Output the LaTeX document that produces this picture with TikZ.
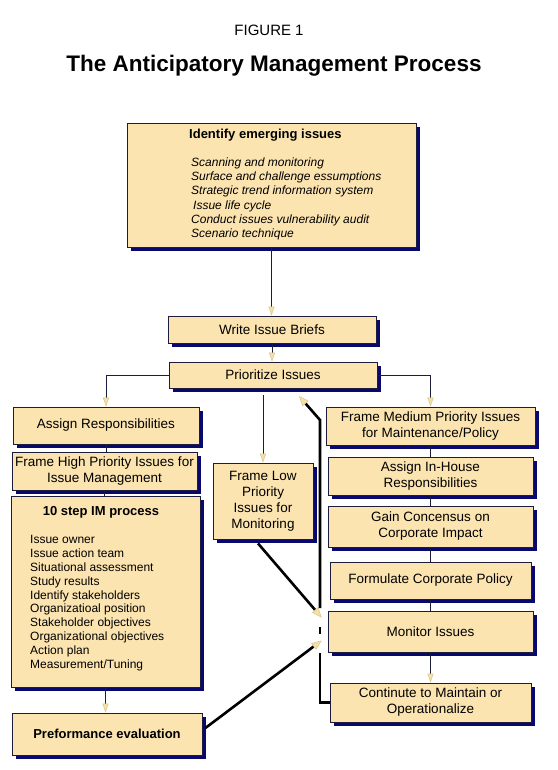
\documentclass[tikz,border=0pt]{standalone}
\usepackage{fontspec}
\setmainfont{Liberation Sans}
\usetikzlibrary{arrows.meta,shadows,calc}
\definecolor{boxfill}{HTML}{FCE4B0}
\definecolor{shadowc}{HTML}{08086E}
\definecolor{edgec}{HTML}{1C1C3C}
\definecolor{headc}{HTML}{F3E1A8}
\definecolor{headd}{HTML}{D9C48A}
\tikzset{
  box/.style={draw=edgec, line width=0.8pt, fill=boxfill,
    drop shadow={shadow xshift=4pt, shadow yshift=-4pt, fill=shadowc, opacity=1},
    align=center, inner sep=2pt, font=\fontsize{13.5}{16}\selectfont},
  wire/.style={draw=edgec, line width=0.9pt},
  arr/.style={wire, -{Triangle[length=9pt,width=6pt,fill=headc,color=headd,line width=0.5pt]}},
  thickline/.style={draw=black, line width=2.6pt},
  thickarr/.style={thickline, -{Triangle[length=10pt,width=8pt,fill=headc,color=headd,line width=0.5pt]}},
}
\begin{document}
\begin{tikzpicture}[x=1pt,y=-1pt]
\useasboundingbox (0,0) rectangle (557,770);
\fill[white] (0,0) rectangle (557,770);

\node[font=\fontsize{15}{18}\selectfont] (fig) at (269,30) {FIGURE 1};
\node[font=\bfseries\fontsize{22.5}{27}\selectfont] (title) at (274,66) {The Anticipatory Management Process};

% top box
\node[box, minimum width=289pt, minimum height=124pt] (emerge) at (271.5,185) {};
\node[anchor=west, font=\bfseries\fontsize{13}{15}\selectfont, inner sep=0] (emergeT) at (189,135) {Identify emerging issues};
\node[anchor=base west, align=left, inner sep=0, font=\itshape\fontsize{12}{14.2}\selectfont] (emergeL) at (191,237.5)
  {Scanning and monitoring\\Surface and challenge essumptions\\Strategic trend information system\\\hspace{2pt}Issue life cycle\\Conduct issues vulnerability audit\\Scenario technique};

\node[box, minimum width=208pt, minimum height=27pt] (write) at (272,329.5) {Write Issue Briefs};
\node[box, minimum width=208pt, minimum height=26pt] (prio) at (273,375) {Prioritize Issues};

% left column
\node[box, minimum width=186pt, minimum height=37pt] (assign) at (106,425.5) {Assign Responsibilities};
\node[box, minimum width=185pt, minimum height=38pt, inner sep=1pt] (high) at (104.5,471) {Frame High Priority Issues for\\Issue Management};
\node[box, minimum width=189pt, minimum height=191pt] (steps) at (105.5,591.5) {};
\node[font=\bfseries\fontsize{13}{15}\selectfont, inner sep=0] (stepsT) at (101,512) {10 step IM process};
\node[anchor=base west, align=left, inner sep=0, font=\fontsize{12}{13.9}\selectfont] (stepsL) at (30,668.5)
  {Issue owner\\Issue action team\\Situational assessment\\Study results\\Identify stakeholders\\Organizatioal position\\Stakeholder objectives\\Organizational objectives\\Action plan\\Measurement/Tuning};
\node[box, minimum width=190pt, minimum height=42pt, font=\bfseries\fontsize{13}{15}\selectfont] (perf) at (107,734) {Preformance evaluation};

% middle
\node[box, minimum width=100pt, minimum height=76pt] (low) at (263,501) {Frame Low\\Priority\\Issues for\\Monitoring};

% right column
\node[box, minimum width=209pt, minimum height=38pt] (medium) at (430.5,426) {Frame Medium Priority Issues\\for Maintenance/Policy};
\node[box, minimum width=205pt, minimum height=38pt] (inhouse) at (430.5,476) {Assign In-House\\Responsibilities};
\node[box, minimum width=205pt, minimum height=41pt] (gain) at (430.5,526.5) {Gain Concensus on\\Corporate Impact};
\node[box, minimum width=201pt, minimum height=37pt] (policy) at (430.5,580.5) {Formulate Corporate Policy};
\node[box, minimum width=205pt, minimum height=41pt] (monitor) at (430.5,631.5) {Monitor Issues};
\node[box, minimum width=201pt, minimum height=39pt] (cont) at (430.5,702.5) {Continute to Maintain or\\Operationalize};

% thin connectors
\draw[arr] (emerge.south) -- (emerge.south |- write.north);
\draw[arr] (write.south) -- (write.south |- prio.north);
\draw[arr] (prio.west) -| (assign.north);
\draw[arr] (prio.east) -| (medium.north);
\draw[arr] ($(prio.south -| low.north)+(0,7)$) -- (low.north);
\draw[wire] (assign.south) -- (assign.south |- high.north);
\draw[wire] (high.south) -- (high.south |- steps.north);
\draw[arr] (steps.south) -- (steps.south |- perf.north);
\draw[wire] (medium.south) -- (inhouse.north);
\draw[wire] (inhouse.south) -- (gain.north);
\draw[wire] (gain.south) -- (policy.north);
\draw[wire] (policy.south) -- (monitor.north);
\draw[arr] (monitor.south) -- (cont.north);

% thick connectors
\coordinate (inLow) at ($(monitor.west)+(-6,-14)$);
\coordinate (inPerf) at ($(monitor.west)+(-6,9)$);
\draw[thickarr] ($(low.south)+(-5,4)$) -- (inLow);
\draw[thickarr] ($(perf.east)+(3,-6)$) -- (inPerf);

\coordinate (loopTip) at (299,396);
\coordinate (loopBend) at (320,420);
\coordinate (loopGapTop) at (320,608);
\coordinate (dashA) at (320,627);
\coordinate (dashB) at (320,634);
\coordinate (loopGapBot) at (320,653);
\draw[thickline] (cont.west) -| (loopGapBot);
\draw[thickline] (dashA) -- (dashB);
\draw[thickarr] (loopGapTop) -- (loopBend) -- (loopTip);
\end{tikzpicture}
\end{document}
